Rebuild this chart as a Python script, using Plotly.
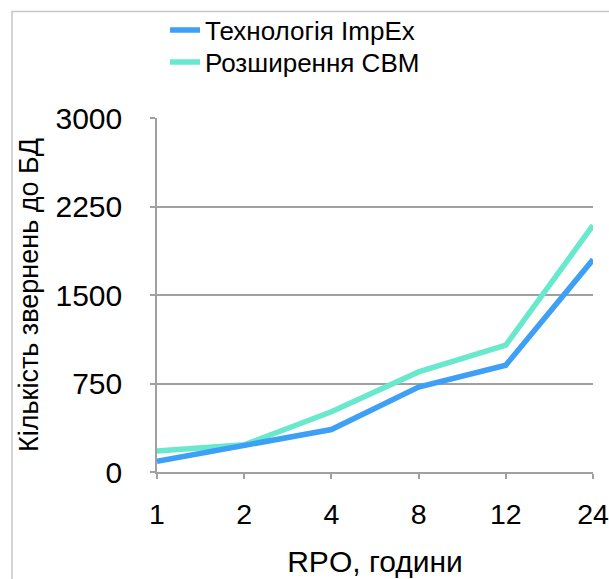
import plotly.graph_objects as go

categories = ["1", "2", "4", "8", "12", "24"]
impex = [90, 228, 360, 720, 905, 1800]
cbm = [178, 230, 510, 848, 1075, 2090]
y_ticks = [0, 750, 1500, 2250, 3000]

W, H = 609, 579
L, R, T, B = 157, 16, 118, 107
FONT = "Liberation Sans, Arial, Helvetica, sans-serif"

xs = list(range(len(categories)))

fig = go.Figure()
fig.add_trace(go.Scatter(x=xs, y=cbm, mode="lines", name="Розширення CBM",
                         line=dict(color="#68e8cc", width=5.5), legend="legend2"))
fig.add_trace(go.Scatter(x=xs, y=impex, mode="lines", name="Технологія ImpEx",
                         line=dict(color="#3d9ff5", width=5.5), legend="legend"))

pw = W - L - R
ph = H - T - B
x0 = (12 - L) / pw
y1 = (H - 11.5 - B) / ph
fig.add_shape(type="rect", xref="paper", yref="paper",
              x0=x0, x1=1 + (R + 20) / pw, y0=-(B + 20) / ph, y1=y1,
              line=dict(color="#c8c8c8", width=1.5), fillcolor="rgba(0,0,0,0)", layer="below")


def ypix(p):
    return 1 + (T - p) / ph


leg_common = dict(x=(165 - L) / pw, xanchor="left", yanchor="middle",
                  font=dict(size=26, family=FONT),
                  bgcolor="rgba(0,0,0,0)", itemwidth=30)

fig.update_layout(
    width=W, height=H,
    margin=dict(l=L, r=R, t=T, b=B, pad=0, autoexpand=False),
    paper_bgcolor="white", plot_bgcolor="white",
    font=dict(family=FONT, color="black"),
    showlegend=True,
    legend=dict(y=ypix(30), **leg_common),
    legend2=dict(y=ypix(62), **leg_common),
    xaxis=dict(
        tickmode="array", tickvals=xs, ticktext=categories,
        range=[0, len(categories) - 1], automargin=False,
        showgrid=False, zeroline=False,
        showline=True, linecolor="#a0a0a0", linewidth=1.5,
        ticks="outside", ticklen=5, tickcolor="#a0a0a0", tickwidth=1.5,
        tickfont=dict(size=28.5, family=FONT), ticklabelstandoff=11,
        title=dict(text="RPO, години", font=dict(size=30, family=FONT), standoff=22),
    ),
    yaxis=dict(
        tickmode="array", tickvals=y_ticks, ticktext=[str(v) for v in y_ticks],
        range=[0, 3000], automargin=False,
        showgrid=True, gridcolor="#a0a0a0", gridwidth=1.5,
        zeroline=False,
        showline=True, linecolor="#a0a0a0", linewidth=1.5,
        ticks="outside", ticklen=5, tickcolor="#a0a0a0", tickwidth=1.5,
        tickfont=dict(size=30, family=FONT), ticklabelstandoff=22,
        title=dict(text="Кількість звернень до БД", font=dict(size=27, family=FONT), standoff=9),
    ),
)
fig.write_html("out.html")
